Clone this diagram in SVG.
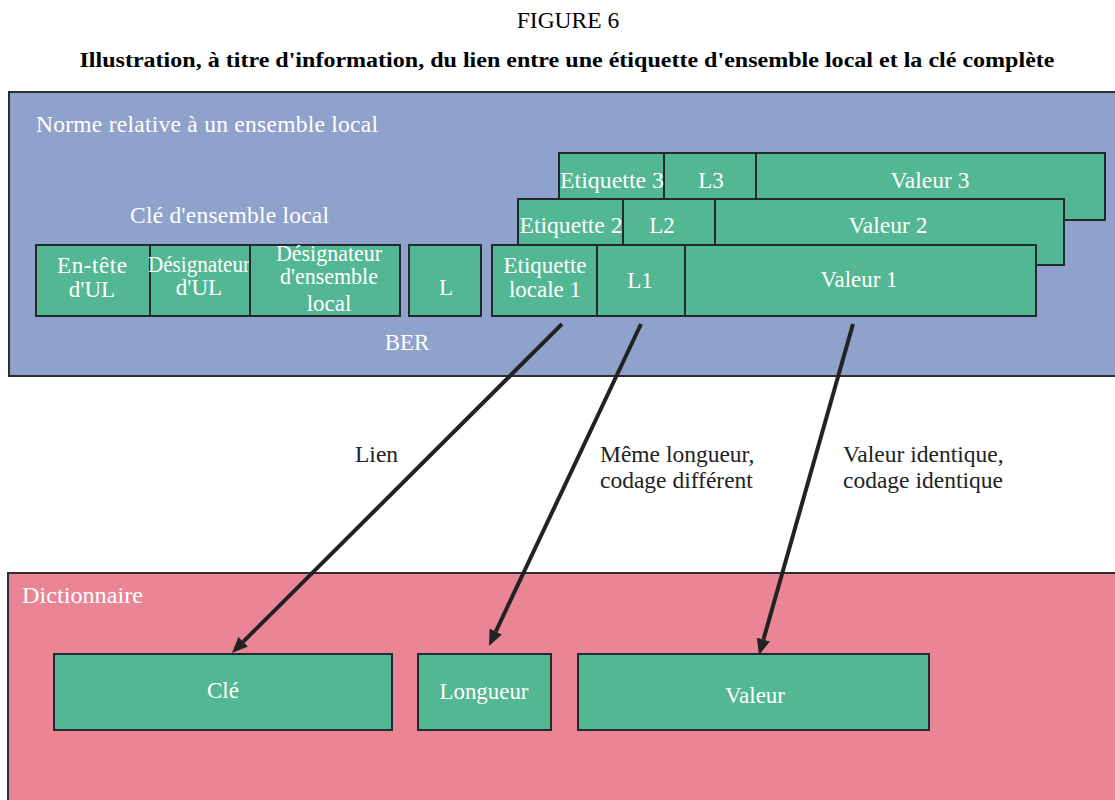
<svg xmlns="http://www.w3.org/2000/svg" width="1115" height="800" viewBox="0 0 1115 800">
<defs>
<style>
text{font-family:"Liberation Serif","Times New Roman",serif;}
.w{fill:#ffffff;font-size:23.5px;}
.wc{fill:#ffffff;font-size:23px;text-anchor:middle;}
.d{fill:#222222;font-size:23.5px;}
.box{fill:#52B792;stroke:#222a2e;stroke-width:2;}
.area{stroke:#2b2f33;stroke-width:2;}
.conn{stroke:#222222;stroke-width:4;fill:none;marker-end:url(#ah);}
</style>
<marker id="ah" markerWidth="4" markerHeight="3.4" refX="0" refY="1.7" orient="auto" markerUnits="strokeWidth">
<path d="M0,0 L4,1.7 L0,3.4 z" fill="#222222"/>
</marker>
</defs>
<rect width="1115" height="800" fill="#ffffff"/>
<g id="title">
<text x="568" y="28" font-size="23.5" text-anchor="middle" fill="#000">FIGURE 6</text>
<text x="567" y="67" font-size="21" font-weight="bold" text-anchor="middle" fill="#000" textLength="975" lengthAdjust="spacingAndGlyphs">Illustration, à titre d'information, du lien entre une étiquette d'ensemble local et la clé complète</text>
</g>
<g id="norme">
<rect class="area" x="9" y="92" width="1110" height="284" fill="#8FA2CC"/>
<text class="w" x="36" y="132" textLength="342" lengthAdjust="spacing">Norme relative à un ensemble local</text>
<text class="w" x="130" y="223" textLength="199" lengthAdjust="spacing">Clé d'ensemble local</text>
<text class="wc" x="407" y="350">BER</text>
</g>
<g id="entete"><rect class="box" x="36" y="245" width="114" height="71"/>
<text class="wc" x="92" y="273" textLength="70" lengthAdjust="spacing">En-tête</text><text class="wc" x="92" y="297">d'UL</text></g>
<g id="desig-ul"><rect class="box" x="150" y="245" width="100" height="71"/>
<text class="wc" x="199" y="272" font-size="20" textLength="102" lengthAdjust="spacingAndGlyphs">Désignateur</text><text class="wc" x="199" y="295" font-size="21">d'UL</text></g>
<g id="desig-ens"><rect class="box" x="250" y="245" width="150" height="71"/>
<text class="wc" x="329" y="261" font-size="20" textLength="106" lengthAdjust="spacingAndGlyphs">Désignateur</text><text class="wc" x="329" y="284" font-size="20" textLength="98" lengthAdjust="spacingAndGlyphs">d'ensemble</text><text class="wc" x="329" y="311" font-size="21">local</text></g>
<g id="L"><rect class="box" x="409" y="245" width="72" height="71"/>
<text class="wc" x="446" y="295">L</text></g>
<g id="row3">
<rect class="box" x="559" y="153" width="105" height="67"/>
<rect class="box" x="664" y="153" width="92" height="67"/>
<rect class="box" x="756" y="153" width="349" height="67"/>
<text class="wc" x="612" y="188" textLength="104" lengthAdjust="spacingAndGlyphs">Etiquette 3</text>
<text class="wc" x="711" y="188">L3</text>
<text class="wc" x="930" y="188" textLength="79" lengthAdjust="spacingAndGlyphs">Valeur 3</text>
</g>
<g id="row2">
<rect class="box" x="518" y="199" width="105" height="66"/>
<rect class="box" x="623" y="199" width="92" height="66"/>
<rect class="box" x="715" y="199" width="349" height="66"/>
<text class="wc" x="571" y="233" textLength="103" lengthAdjust="spacingAndGlyphs">Etiquette 2</text>
<text class="wc" x="662" y="233">L2</text>
<text class="wc" x="888" y="233" textLength="79" lengthAdjust="spacingAndGlyphs">Valeur 2</text>
</g>
<g id="row1">
<rect class="box" x="492" y="245" width="105" height="71"/>
<rect class="box" x="597" y="245" width="88" height="71"/>
<rect class="box" x="685" y="245" width="351" height="71"/>
<text class="wc" x="545" y="273">Etiquette</text><text class="wc" x="545" y="297">locale 1</text>
<text class="wc" x="640" y="288">L1</text>
<text class="wc" x="859" y="287" textLength="77" lengthAdjust="spacingAndGlyphs">Valeur 1</text>
</g>
<g id="dictionnaire">
<rect class="area" x="8" y="573" width="1112" height="232" fill="#E98595"/>
<text class="w" x="22" y="603" textLength="121" lengthAdjust="spacingAndGlyphs">Dictionnaire</text>
</g>
<g id="cle"><rect class="box" x="54" y="654" width="338" height="76"/><text class="wc" x="223" y="698">Clé</text></g>
<g id="longueur"><rect class="box" x="418" y="654" width="133" height="76"/><text class="wc" x="484" y="699" textLength="89" lengthAdjust="spacingAndGlyphs">Longueur</text></g>
<g id="valeur"><rect class="box" x="578" y="654" width="351" height="76"/><text class="wc" x="755" y="703">Valeur</text></g>
<g id="connectors">
<line class="conn" x1="562" y1="324" x2="243.3" y2="641.7"/>
<line class="conn" x1="641" y1="324" x2="495.8" y2="631.5"/>
<line class="conn" x1="853" y1="324" x2="763.4" y2="639.6"/>
<text class="d" x="355" y="462">Lien</text>
<text class="d" x="600" y="462">Même longueur,</text>
<text class="d" x="600" y="488">codage différent</text>
<text class="d" x="843" y="462">Valeur identique,</text>
<text class="d" x="843" y="488">codage identique</text>
</g>
</svg>
